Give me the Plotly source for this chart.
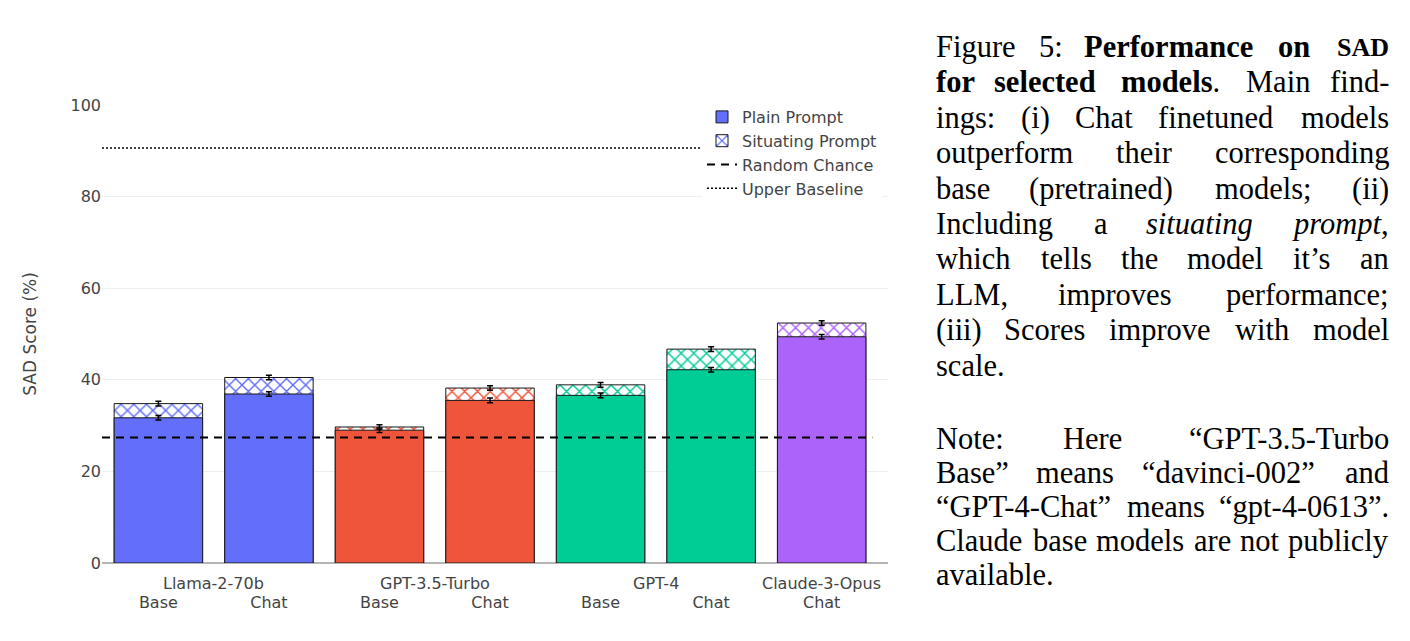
import re
import plotly.graph_objects as go

# ---------------- data ----------------
groups = ["Llama-2-70b", "Llama-2-70b", "GPT-3.5-Turbo", "GPT-3.5-Turbo",
          "GPT-4", "GPT-4", "Claude-3-Opus"]
variants = ["Base", "Chat", "Base", "Chat", "Base", "Chat", "Chat"]
plain_scores = [31.7, 36.9, 29.0, 35.5, 36.6, 42.2, 49.4]
plain_err = [0.5, 0.5, 0.5, 0.5, 0.5, 0.5, 0.5]
situating_scores = [34.8, 40.5, 29.7, 38.2, 38.9, 46.7, 52.4]
situating_err = [0.5, 0.5, 0.5, 0.5, 0.5, 0.5, 0.5]
random_chance = 27.4
upper_baseline = 90.6
y_ticks = [0, 20, 40, 60, 80, 100]
bar_colors = ["#636EFA", "#636EFA", "#EF553B", "#EF553B", "#00CC96", "#00CC96", "#AB63FA"]

caption_par1 = [
    "Figure 5: <b>Performance</b> <b>on</b> <b>SAD</b>",
    "<b>for</b> <b>selected</b> <b>models</b>. Main find-",
    "ings: (i) Chat finetuned models",
    "outperform their corresponding",
    "base (pretrained) models; (ii)",
    "Including a <i>situating</i> <i>prompt</i>,",
    "which tells the model it’s an",
    "LLM, improves performance;",
    "(iii) Scores improve with model",
    "scale.",
]
caption_par2 = [
    "Note: Here “GPT-3.5-Turbo",
    "Base” means “davinci-002” and",
    "“GPT-4-Chat” means “gpt-4-0613”.",
    "Claude base models are not publicly",
    "available.",
]
small_caps_words = {"SAD"}

# ---------------- geometry ----------------
OFF = 8  # page body margin
W, H = 1402, 633
ML, MR, MT, MB = 94, 522, 97, 78
PW = W - ML - MR
PH = H - MT - MB


def px_x(page_px):
    return (page_px - OFF - ML) / PW


def px_y(page_py):
    return (MT + PH - (page_py - OFF)) / PH


cats = [f"{g} {v}" for g, v in zip(groups, variants)]

fig = go.Figure()

fig.add_trace(go.Bar(
    x=cats, y=situating_scores, name="Situating Prompt", legendrank=2,
    marker=dict(color=bar_colors, line=dict(color="#1a1a1a", width=1),
                pattern=dict(shape="x", fillmode="replace", bgcolor="white",
                             fgcolor=bar_colors, size=9, solidity=0.3)),
    error_y=dict(type="data", array=situating_err, color="black", thickness=1.5, width=3),
))
fig.add_trace(go.Bar(
    x=cats, y=plain_scores, name="Plain Prompt", legendrank=1,
    marker=dict(color=bar_colors, line=dict(color="#1a1a1a", width=1)),
    error_y=dict(type="data", array=plain_err, color="black", thickness=1.5, width=3),
))
fig.add_trace(go.Scatter(
    x=[0, 0.98], y=[random_chance, random_chance], xaxis="x2", mode="lines",
    name="Random Chance", legendrank=3,
    line=dict(color="black", width=2, dash="8px,6px"),
))
fig.add_trace(go.Scatter(
    x=[0, 0.98], y=[upper_baseline, upper_baseline], xaxis="x2", mode="lines",
    name="Upper Baseline", legendrank=4,
    line=dict(color="black", width=1.5, dash="2px,2px"),
))

annotations = []
# group labels
seen = []
for g in groups:
    if g not in seen:
        seen.append(g)
for g in seen:
    idx = [i for i, gg in enumerate(groups) if gg == g]
    annotations.append(dict(
        x=sum(idx) / len(idx), y=px_y(583), xref="x", yref="paper",
        text=g, showarrow=False, xanchor="center", yanchor="middle",
        font=dict(family="DejaVu Sans", size=16, color="#444"),
    ))

# caption (justified, word by word)
CW = {' ': 250, '(': 333, ')': 333, ',': 250, '-': 333, '.': 250, ':': 278, ';': 278,
      '“': 444, '”': 444, '’': 333,
      'A': 722, 'B': 667, 'C': 667, 'D': 722, 'E': 611, 'F': 556, 'G': 722, 'H': 722,
      'I': 333, 'L': 611, 'M': 889, 'N': 722, 'P': 556, 'S': 556, 'T': 611,
      'a': 444, 'b': 500, 'c': 444, 'd': 500, 'e': 444, 'f': 333, 'g': 500, 'h': 500,
      'i': 278, 'k': 500, 'l': 278, 'm': 778, 'n': 500, 'o': 500, 'p': 500, 'r': 333,
      's': 389, 't': 278, 'u': 500, 'v': 500, 'w': 722, 'y': 500}
FS = 30.5
SC_FS = 26
LEFT, RIGHT = 935, 1390


def word_size(word):
    plain = re.sub(r"<[^>]+>", "", word)
    return SC_FS if plain in small_caps_words else FS


def est_width(word):
    plain = re.sub(r"<[^>]+>", "", word)
    size = word_size(word)
    w = sum(CW.get(ch, 500) for ch in plain) / 1000 * size * 1.03
    if "<b>" in word:
        w *= 1.08
    return w


def add_line(text, yc, justify):
    words = text.split(" ")
    widths = [est_width(w) for w in words]
    if justify and len(words) > 1:
        gap = (RIGHT - LEFT - sum(widths)) / (len(words) - 1)
    else:
        gap = 0.25 * FS
    x = LEFT
    for i, w in enumerate(words):
        if justify and i == len(words) - 1 and len(words) > 1:
            xa, xp = "right", RIGHT
        else:
            xa, xp = "left", x
        annotations.append(dict(
            x=px_x(xp), y=px_y(yc), xref="paper", yref="paper", text=w,
            showarrow=False, xanchor=xa, yanchor="middle", borderpad=0,
            font=dict(family="Liberation Serif", size=word_size(w), color="black"),
        ))
        x += widths[i] + gap


for i, line in enumerate(caption_par1):
    add_line(line, 47 + 35.4 * i, i < len(caption_par1) - 1)
for i, line in enumerate(caption_par2):
    add_line(line, 439 + 34 * i, i < len(caption_par2) - 1)

fig.update_layout(
    width=W, height=H,
    margin=dict(l=ML, r=MR, t=MT, b=MB, autoexpand=False),
    paper_bgcolor="white", plot_bgcolor="white",
    barmode="overlay", bargap=0.2,
    font=dict(family="DejaVu Sans", size=16, color="#444"),
    xaxis=dict(type="category", range=[-0.51, 6.6], tickvals=cats, ticktext=variants,
               ticklabelstandoff=28, showgrid=False, showline=False, ticks=""),
    xaxis2=dict(overlaying="x", range=[0, 1], visible=False),
    yaxis=dict(range=[0, 100], tickvals=y_ticks, showgrid=True, gridcolor="#eeeeee",
               gridwidth=1, zeroline=True, zerolinecolor="#b5b5b5", zerolinewidth=2,
               title=dict(text="SAD Score (%)", font=dict(size=17), standoff=29),
               tickfont=dict(size=16)),
    legend=dict(x=px_x(702), y=1 + 5 / PH, xanchor="left", yanchor="top",
                bgcolor="white", font=dict(size=16, color="#444"),
                itemwidth=30, tracegroupgap=0),
    annotations=annotations,
    showlegend=True,
)

fig.write_html("out.html")
